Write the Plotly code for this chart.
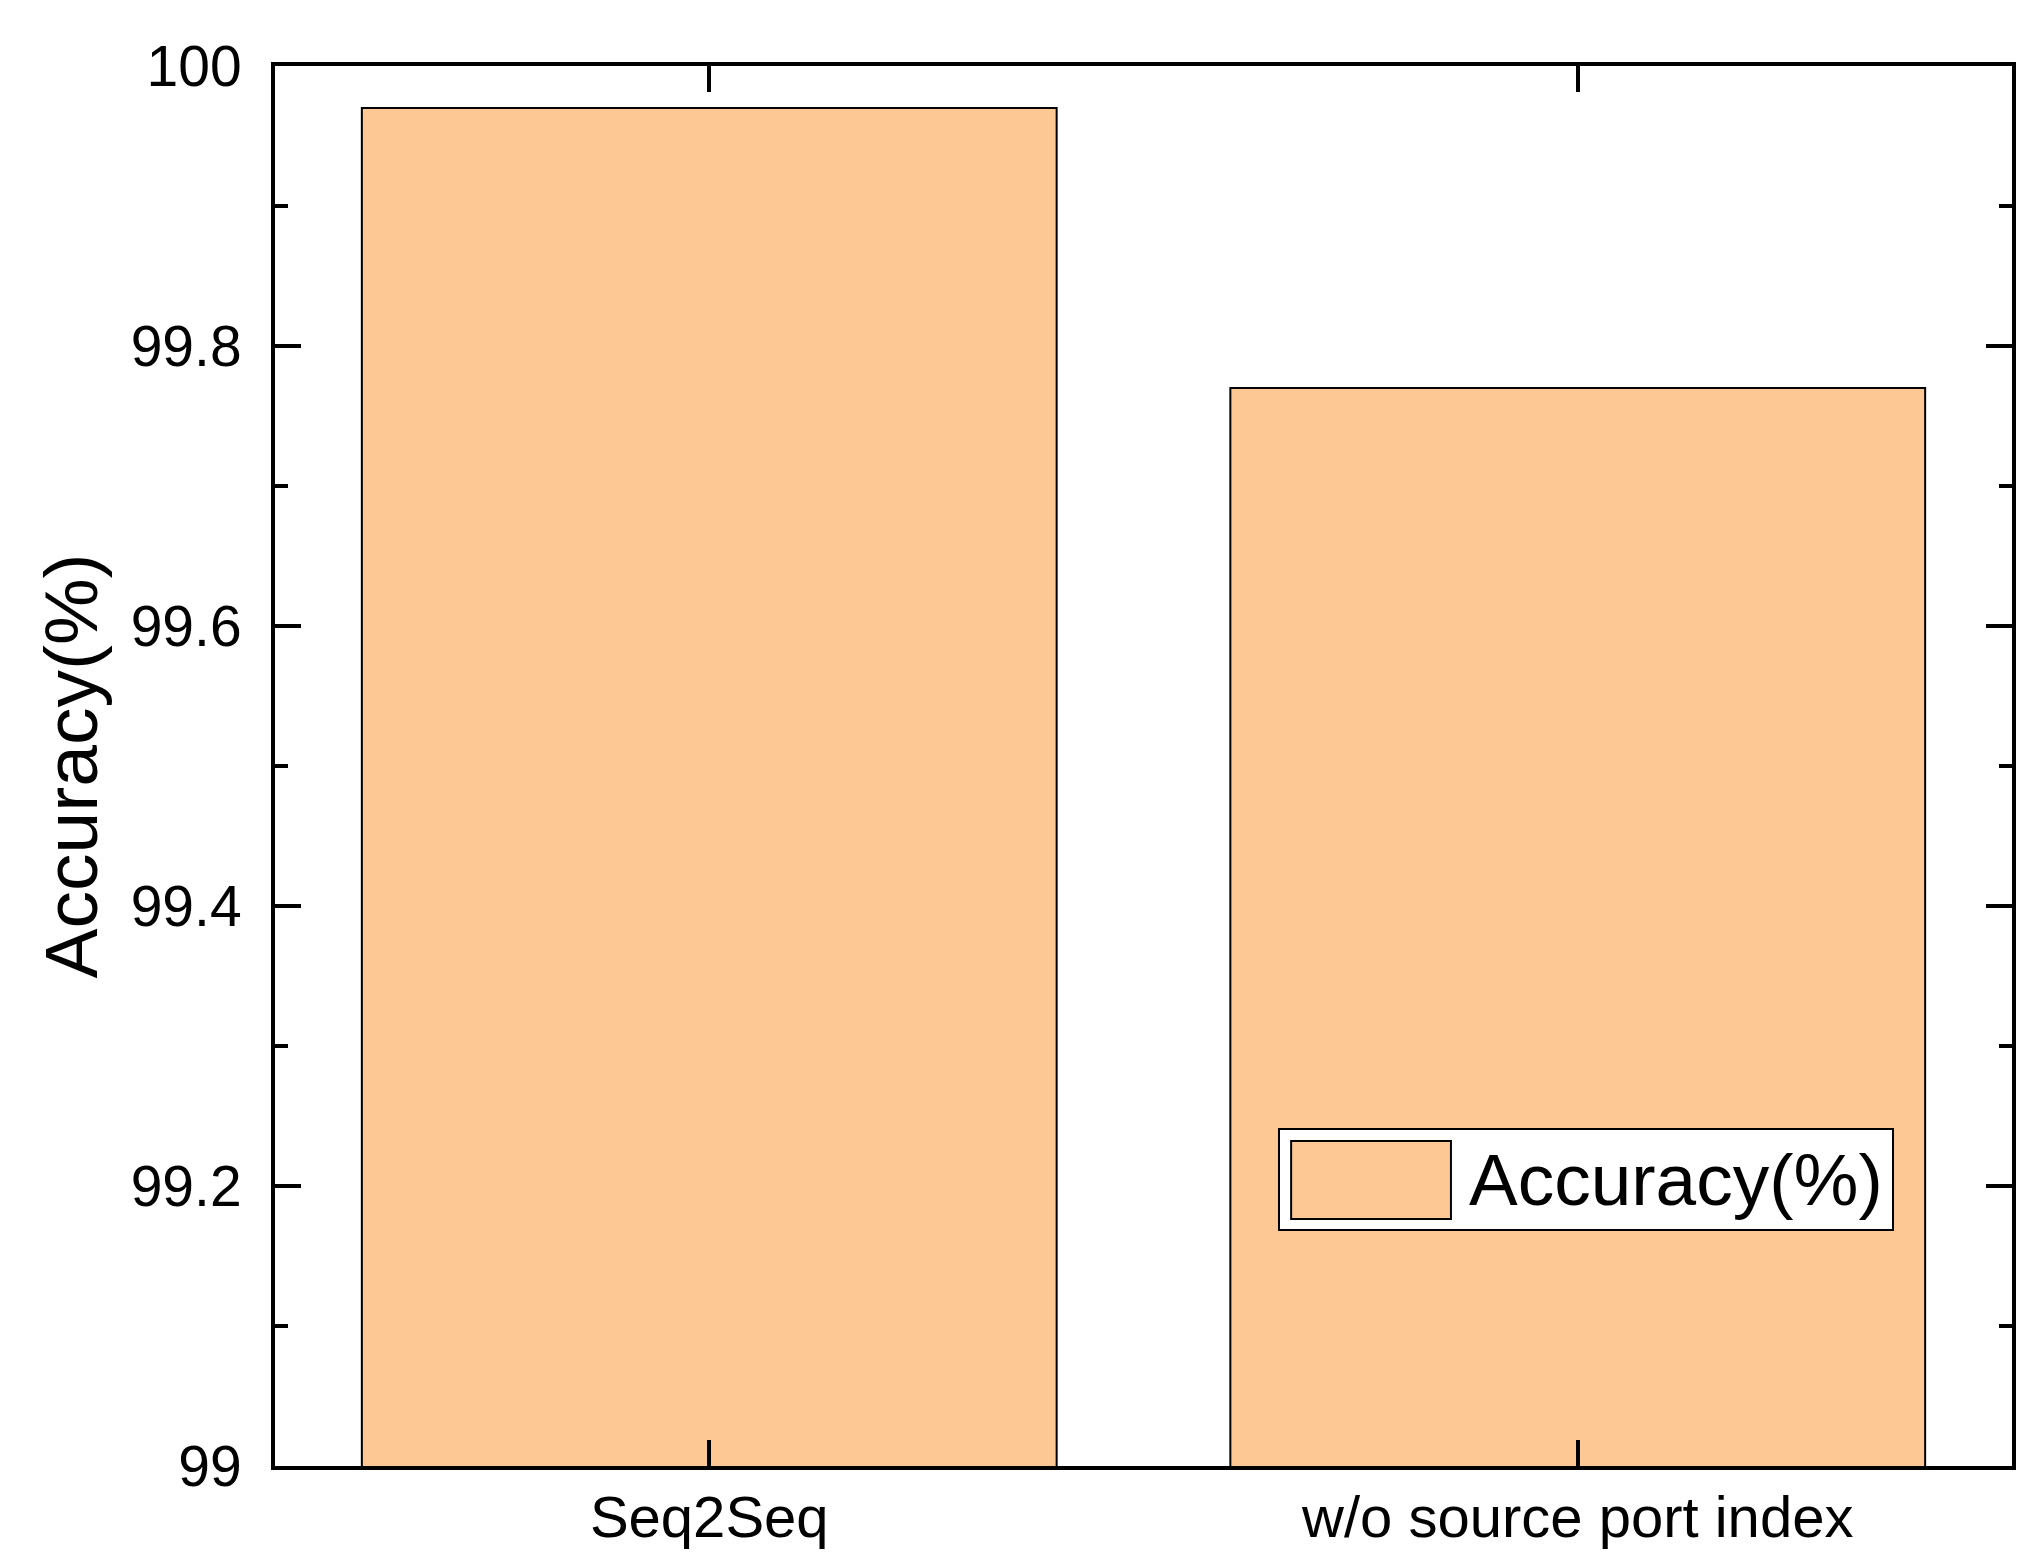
import plotly.graph_objects as go

categories = ["Seq2Seq", "w/o source port index"]
accuracy = [99.97, 99.77]
series_name = "Accuracy(%)"
y_title = "Accuracy(%)"

FONT = "Liberation Sans, Arial, sans-serif"
BAR_COLOR = "#FEC894"

fig = go.Figure()
fig.add_trace(go.Bar(
    x=categories, y=accuracy, name=series_name, width=0.8,
    marker=dict(color=BAR_COLOR, line=dict(color="black", width=2)),
    showlegend=False,
))

# Legend box drawn as Origin-style frame (large swatch)
fig.add_shape(type="rect", xref="paper", yref="paper", x0=0.578, x1=0.9315, y0=0.1686, y1=0.2407,
              line=dict(color="black", width=2), fillcolor="white", layer="above")
fig.add_shape(type="rect", xref="paper", yref="paper", x0=0.585, x1=0.677, y0=0.1764, y1=0.2321,
              line=dict(color="black", width=2), fillcolor=BAR_COLOR, layer="above")
fig.add_annotation(x=0.686, y=0.2043, xref="paper", yref="paper", text=series_name, showarrow=False,
                   xanchor="left", yanchor="middle", font=dict(family=FONT, size=73, color="black"))

fig.update_layout(
    width=2032, height=1559,
    margin=dict(l=267, r=28, t=58, b=101),
    plot_bgcolor="white", paper_bgcolor="white",
    font=dict(family=FONT, color="black"),
    xaxis=dict(type="category", range=[-0.5, 1.5], showline=True, linecolor="black", linewidth=4,
               mirror="ticks", ticks="inside", ticklen=26, tickwidth=4, tickcolor="black",
               tickfont=dict(size=58), ticklabelstandoff=-3, showgrid=False, automargin=False),
    yaxis=dict(range=[99, 100], dtick=0.2, tick0=99, showline=True, linecolor="black", linewidth=4,
               mirror="ticks", ticks="inside", ticklen=26, tickwidth=4, tickcolor="black",
               tickfont=dict(size=57), ticklabelstandoff=18, showgrid=False, zeroline=False,
               automargin=False,
               minor=dict(dtick=0.1, ticks="inside", ticklen=13, tickwidth=4, tickcolor="black", showgrid=False),
               title=dict(text=y_title, font=dict(size=75), standoff=9)),
)

fig.write_html("out.html")
